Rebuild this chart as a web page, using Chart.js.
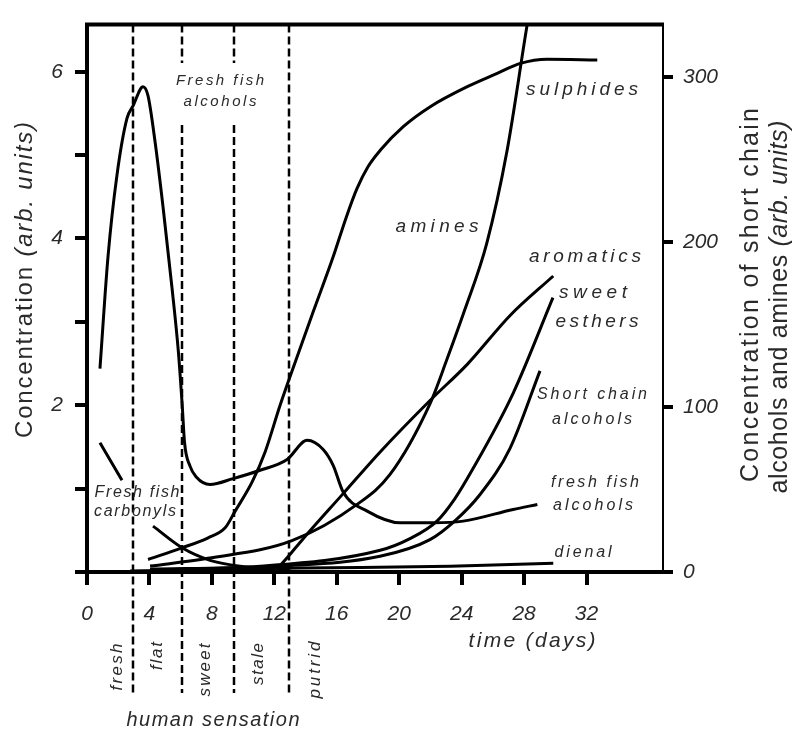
<!DOCTYPE html>
<html>
<head>
<meta charset="utf-8">
<script src="https://cdn.jsdelivr.net/npm/chart.js@4.4.1/dist/chart.umd.min.js"></script>
<style>
  html, body { margin: 0; padding: 0; background: #fff; }
  #wrap { width: 792px; height: 729px; }
</style>
</head>
<body>
<div id="wrap"><canvas id="graficoPescado"></canvas></div>
<script>
// ticks
const xTicks = [0, 4, 8, 12, 16, 20, 24, 28, 32];
const leftTicks = [0, 1, 2, 3, 4, 5, 6];
const rightTicks = [0, 100, 200, 300];

// human sensation limits (days)
const sensationDays = [2.95, 6.1, 9.4, 12.95];
const sensationNames = ['fresh', 'flat', 'sweet', 'stale', 'putrid'];

// fresh fish alcohols (left axis)
const alcDays = [0.83, 1.35, 1.92, 2.56, 2.95, 3.59, 3.91, 4.36, 4.87, 5.45, 5.85, 6.1, 6.25, 6.6, 7.0, 7.88, 9.36, 11.09, 12.82, 14.1, 15.13, 15.77, 16.41, 17.95, 20.06, 22.2, 24.1, 27.3, 28.85];
const alcVals = [2.44, 3.79, 4.76, 5.44, 5.59, 5.82, 5.71, 5.16, 4.38, 3.40, 2.65, 2.0, 1.55, 1.27, 1.14, 1.05, 1.12, 1.22, 1.35, 1.58, 1.47, 1.28, 0.96, 0.73, 0.59, 0.59, 0.61, 0.75, 0.81];

// fresh fish carbonyls (left axis, hidden behind its label)
const carbDays = [0.83, 2.24, 3.2, 4.23, 6.09, 7.88, 9.8, 13.0];
const carbVals = [1.55, 1.10, null, 0.55, 0.29, 0.14, 0.07, 0.03];

// sulphides (left axis)
const sulDays = [3.91, 6.09, 7.76, 8.85, 9.49, 10.58, 11.41, 12.37, 13.21, 14.49, 15.77, 16.6, 17.3, 18.0, 18.8, 20.26, 21.99, 24.36, 26.28, 27.76, 29.49, 32.69];
const sulVals = [0.15, 0.29, 0.41, 0.53, 0.73, 1.08, 1.44, 2.0, 2.45, 3.12, 3.78, 4.25, 4.6, 4.86, 5.06, 5.34, 5.58, 5.82, 5.98, 6.1, 6.15, 6.14];

// amines (right axis)
const amiDays = [4.04, 7.75, 13.13, 17.3, 19.4, 21.97, 23.06, 24.2, 25.6, 26.9, 28.2, 28.4];
const amiVals = [3.6, 8.3, 19, 41, 59, 102, 129, 159, 199, 255, 332, 343];

// aromatics (left axis)
const aroDays = [12.24, 12.82, 13.85, 16.41, 18.78, 21.99, 24.36, 27.12, 29.87];
const aroVals = [0.05, 0.17, 0.40, 0.94, 1.44, 2.06, 2.49, 3.08, 3.55];

// sweet esthers (left axis)
const estDays = [4.04, 11.09, 18.78, 20.69, 22.42, 23.57, 24.73, 27.29, 29.85];
const estVals = [0.035, 0.07, 0.26, 0.40, 0.61, 0.88, 1.24, 2.14, 3.29];

// short chain alcohols (right axis)
const scaDays = [4.04, 12.36, 18.77, 21.97, 23.57, 25.18, 27.1, 29.02];
const scaVals = [1.2, 3.6, 9.5, 19.6, 31, 47, 75, 122];

// dienal (left axis)
const dieDays = [2.76, 13.65, 23.27, 29.87];
const dieVals = [0.012, 0.047, 0.07, 0.106];

const FONT = '"Liberation Sans", Arial, sans-serif';

const toPoints = (days, vals) => days.map((d, i) => ({ x: d, y: vals[i] }));

function serie(label, days, vals, axis) {
  return {
    label: label,
    data: toPoints(days, vals),
    yAxisID: axis,
    borderColor: '#000',
    borderWidth: 3,
    pointRadius: 0,
    fill: false,
    cubicInterpolationMode: 'monotone'
  };
}

// texto con espaciado para llenar un ancho dado
function drawText(ctx, parts, cx, cy, size, width, rot) {
  ctx.save();
  ctx.translate(cx, cy);
  if (rot) ctx.rotate(rot);
  ctx.textBaseline = 'middle';
  ctx.textAlign = 'left';
  ctx.fillStyle = '#2a2a2a';
  const chars = [];
  parts.forEach(p => {
    const f = (p.it ? 'italic ' : '') + size + 'px ' + FONT;
    ctx.font = f;
    for (const ch of p.t) chars.push({ ch: ch, f: f, w: ctx.measureText(ch).width });
  });
  const natural = chars.reduce((a, c) => a + c.w, 0);
  const sp = chars.length > 1 ? (width - natural) / (chars.length - 1) : 0;
  let x = -width / 2;
  chars.forEach(c => { ctx.font = c.f; ctx.fillText(c.ch, x, 0); x += c.w + sp; });
  ctx.restore();
}

const it = t => [{ t: t, it: true }];

// etiquetas dentro y fuera del grafico
const textos = [
  { p: it('Fresh fish'), x: 220, y: 81, s: 15, w: 88 },
  { p: it('alcohols'), x: 220, y: 102, s: 15, w: 73 },
  { p: it('sulphides'), x: 582, y: 90, s: 19, w: 112 },
  { p: it('amines'), x: 437, y: 227, s: 19, w: 83 },
  { p: it('aromatics'), x: 585, y: 257, s: 19, w: 112 },
  { p: it('sweet'), x: 593, y: 293, s: 19, w: 68 },
  { p: it('esthers'), x: 597, y: 322, s: 19, w: 83 },
  { p: it('Short chain'), x: 592, y: 395, s: 16, w: 110 },
  { p: it('alcohols'), x: 592, y: 420, s: 16, w: 80 },
  { p: it('fresh fish'), x: 595, y: 483, s: 16, w: 88 },
  { p: it('alcohols'), x: 593, y: 506, s: 16, w: 80 },
  { p: it('dienal'), x: 583, y: 553, s: 16, w: 57 },
  { p: it('Fresh fish'), x: 137, y: 493, s: 16, w: 85 },
  { p: it('carbonyls'), x: 135, y: 512, s: 16, w: 82 },
  { p: it('time (days)'), x: 532, y: 641, s: 21, w: 127 },
  { p: it('human sensation'), x: 213, y: 720, s: 20, w: 173 },
  { p: [{ t: 'Concentration ', it: false }, { t: '(arb. units)', it: true }], x: 25, y: 280, s: 24, w: 316, r: -Math.PI / 2 },
  { p: [{ t: 'Concentration of short chain', it: false }], x: 751, y: 295, s: 25, w: 374, r: -Math.PI / 2 },
  { p: [{ t: 'alcohols and amines ', it: false }, { t: '(arb. units)', it: true }], x: 780, y: 307, s: 25, w: 373, r: -Math.PI / 2 }
];

// posiciones de las palabras de sensacion (rotadas)
const sensationPos = [
  { x: 117, y: 667, w: 47 },
  { x: 157, y: 656, w: 28 },
  { x: 205, y: 670, w: 53 },
  { x: 258, y: 664, w: 42 },
  { x: 315, y: 670, w: 57 }
];

const extras = {
  id: 'extras',
  afterDraw(chart) {
    const ctx = chart.ctx;
    const a = chart.chartArea;
    const xs = chart.scales.x;
    ctx.save();
    // borde superior
    ctx.strokeStyle = '#000';
    ctx.lineWidth = 4;
    ctx.beginPath();
    ctx.moveTo(a.left - 2, a.top);
    ctx.lineTo(a.right + 1, a.top);
    ctx.stroke();
    // lineas discontinuas
    ctx.lineWidth = 2.5;
    ctx.setLineDash([8, 4]);
    sensationDays.forEach((d, i) => {
      const px = Math.round(xs.getPixelForValue(d));
      ctx.beginPath();
      if (i === 1 || i === 2) {
        ctx.moveTo(px, a.top); ctx.lineTo(px, 63);
        ctx.moveTo(px, 125); ctx.lineTo(px, 693);
      } else {
        ctx.moveTo(px, a.top); ctx.lineTo(px, 693);
      }
      ctx.stroke();
    });
    ctx.setLineDash([]);
    ctx.restore();

    textos.forEach(t => drawText(ctx, t.p, t.x, t.y, t.s, t.w, t.r));
    sensationNames.forEach((n, i) => {
      const p = sensationPos[i];
      drawText(ctx, it(n), p.x, p.y, 17, p.w, -Math.PI / 2);
    });
  }
};

const tickFont = { family: FONT, size: 21, style: 'italic' };

new Chart(document.getElementById('graficoPescado'), {
  type: 'line',
  data: {
    datasets: [
      serie('fresh fish alcohols', alcDays, alcVals, 'y'),
      serie('fresh fish carbonyls', carbDays, carbVals, 'y'),
      serie('sulphides', sulDays, sulVals, 'y'),
      serie('amines', amiDays, amiVals, 'y2'),
      serie('aromatics', aroDays, aroVals, 'y'),
      serie('sweet esthers', estDays, estVals, 'y'),
      serie('short chain alcohols', scaDays, scaVals, 'y2'),
      serie('dienal', dieDays, dieVals, 'y')
    ]
  },
  options: {
    responsive: true,
    maintainAspectRatio: false,
    animation: false,
    layout: { padding: { top: 14, left: 0, right: 0, bottom: 0 } },
    plugins: {
      legend: { display: false },
      tooltip: { enabled: false }
    },
    scales: {
      x: {
        type: 'linear',
        min: 0,
        max: 36.9,
        afterBuildTicks: s => { s.ticks = xTicks.map(v => ({ value: v })); },
        afterFit: s => { s.height = 157; },
        grid: { drawOnChartArea: false, color: '#000', lineWidth: 4, tickLength: 13 },
        border: { color: '#000', width: 4 },
        ticks: { font: tickFont, color: '#2a2a2a', padding: 17, maxRotation: 0, autoSkip: false }
      },
      y: {
        position: 'left',
        min: 0,
        max: 6.565,
        afterBuildTicks: s => { s.ticks = leftTicks.map(v => ({ value: v })); },
        afterFit: s => { s.width = 87; },
        grid: { drawOnChartArea: false, color: '#000', lineWidth: 4, tickLength: 12 },
        border: { color: '#000', width: 4 },
        ticks: {
          font: tickFont, color: '#2a2a2a', padding: 12,
          callback: v => (v > 0 && v % 2 === 0) ? v : ''
        }
      },
      y2: {
        position: 'right',
        min: 0,
        max: 332,
        afterBuildTicks: s => { s.ticks = rightTicks.map(v => ({ value: v })); },
        afterFit: s => { s.width = 129; },
        grid: { drawOnChartArea: false, color: '#000', lineWidth: 4, tickLength: 10 },
        border: { color: '#000', width: 2 },
        ticks: { font: tickFont, color: '#2a2a2a', padding: 10 }
      }
    }
  },
  plugins: [extras]
});
</script>
</body>
</html>
